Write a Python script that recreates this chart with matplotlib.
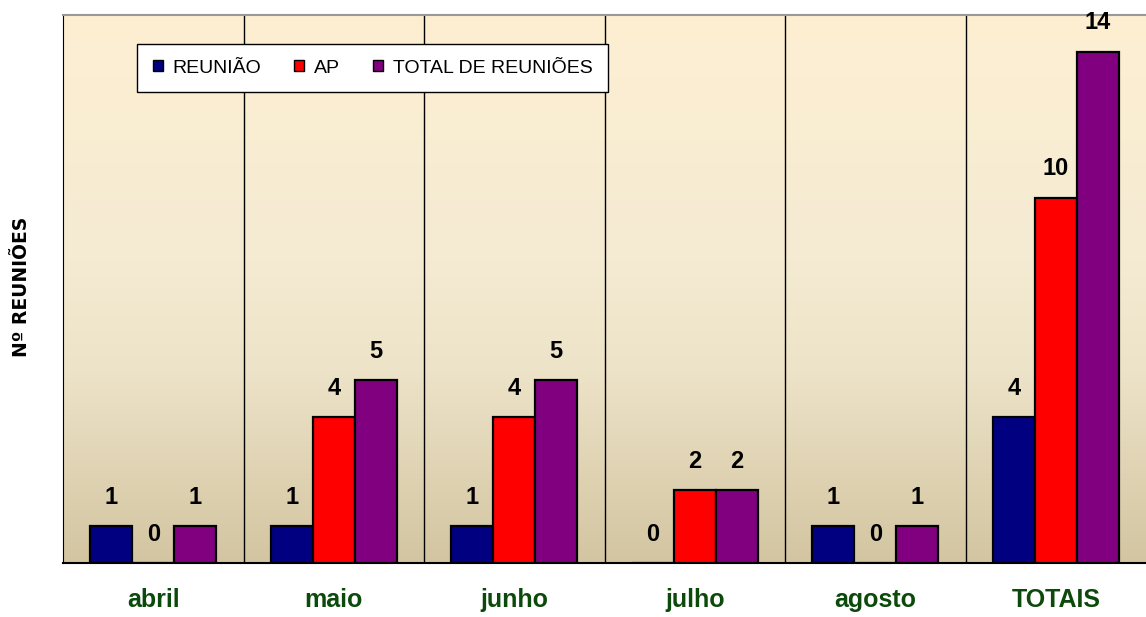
import numpy as np
import matplotlib
matplotlib.use("Agg")
import matplotlib.pyplot as plt
from matplotlib.colors import LinearSegmentedColormap

plt.rcParams['font.family'] = ['Liberation Sans', 'DejaVu Sans']

categories = ["abril", "maio", "junho", "julho", "agosto", "TOTAIS"]
reuniao = [1, 1, 1, 0, 1, 4]
ap = [0, 4, 4, 2, 0, 10]
total = [1, 5, 5, 2, 1, 14]
series_names = ["REUNIÃO", "AP", "TOTAL DE REUNIÕES"]
series_colors = ["#000080", "#FF0000", "#800080"]

fig = plt.figure(figsize=(11.46, 6.17), dpi=100)
ax = fig.add_axes([63/1146, 54/617, 1083/1146, 548/617])

n = len(categories)
ax.set_xlim(0, n)
ax.set_ylim(0, 15)

# gradient background
cmap = LinearSegmentedColormap.from_list(
    "bg", [(0.0, "#D3C5A1"), (0.35, "#EDE3C8"), (0.55, "#F4EBD2"), (1.0, "#FEEFD3")])
grad = np.linspace(0, 1, 256).reshape(-1, 1)
ax.imshow(grad, aspect="auto", cmap=cmap, origin="lower",
          extent=[0, n, 0, 15], zorder=0)

bw = 0.232
offsets = [-bw, 0, bw]
x = np.arange(n) + 0.5
for vals, off, col, name in zip([reuniao, ap, total], offsets, series_colors, series_names):
    ax.bar(x + off, vals, width=bw, color=col, edgecolor="black", linewidth=1.6,
           zorder=3, label=name)
    for xi, v in zip(x + off, vals):
        ax.text(xi, v + 0.47, str(v), ha="center", va="bottom", fontsize=17,
                fontweight="bold", color="black", zorder=4)

for b in range(1, n):
    ax.axvline(b, color="black", linewidth=1, zorder=1)

ax.set_xticks(x)
ax.set_xticklabels(categories, fontsize=18, fontweight="bold", color="#0B4A0B")
ax.tick_params(axis="x", length=0, pad=18)
ax.set_yticks([])
ax.spines["right"].set_visible(False)
ax.spines["top"].set_color("#999999")
ax.spines["top"].set_linewidth(1.5)
ax.spines["left"].set_color("black")
ax.spines["bottom"].set_color("black")
ax.spines["bottom"].set_linewidth(1.5)

fig.text(22/1146, 1 - 287/617, "Nº REUNIÕES", rotation=90, ha="center", va="center",
         fontsize=13.5, fontweight="bold", family=['DejaVu Sans'])

leg = ax.legend(loc="upper left", bbox_to_anchor=(0.0683, 0.947), ncol=3,
                frameon=True, fancybox=False, edgecolor="black", fontsize=14,
                handlelength=0.52, handleheight=0.52, handletextpad=0.5,
                columnspacing=1.7, borderpad=0.8, borderaxespad=0)
leg.get_frame().set_linewidth(1.0)
leg.get_frame().set_facecolor("white")
leg.get_frame().set_alpha(1)
for h in leg.legend_handles:
    h.set_linewidth(1.0)

fig.savefig("out.png", dpi=100)
